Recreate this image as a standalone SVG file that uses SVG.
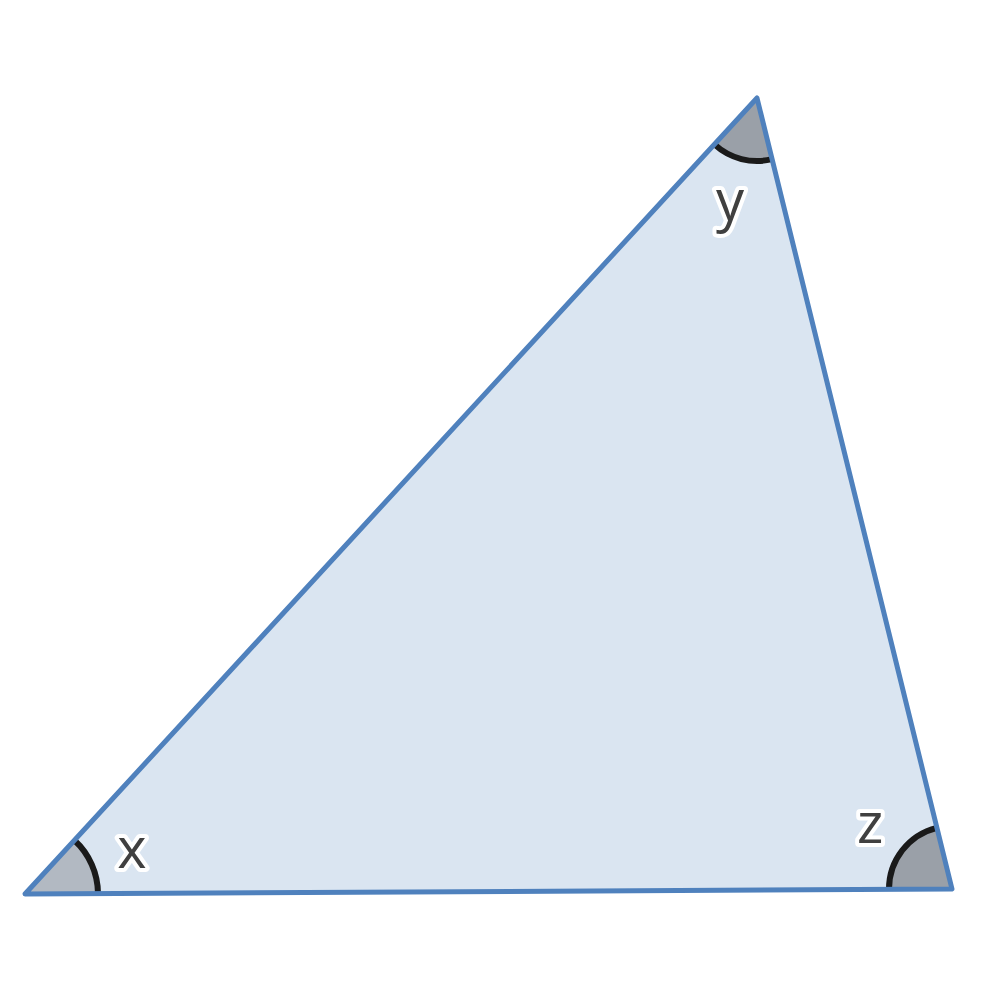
<svg xmlns="http://www.w3.org/2000/svg" width="1000" height="1000" viewBox="0 0 1000 1000">
<style>
.tri{fill:#dae5f1;stroke:none}
.edge{fill:none;stroke:#4f81bd;stroke-width:5;stroke-linejoin:round;stroke-linecap:round}
.arc{fill:none;stroke:#1a1a1a;stroke-width:6}
.lbl{font-family:"Open Sans","Liberation Sans",sans-serif;font-size:56px;fill:#404040;stroke:#ffffff;stroke-width:8;stroke-linejoin:round;paint-order:stroke;text-anchor:middle}
</style>
<rect width="1000" height="1000" fill="#ffffff"/>
<g id="triangle">
<polygon class="tri" points="25,894 757,98 952,889"/>
</g>
<g id="angle-x">
<path d="M25,894 L74.4,840.3 A73,73 0 0 1 98,893.6 Z" fill="#b2b9c2"/>
<path class="arc" d="M74.4,840.3 A73,73 0 0 1 98,893.6"/>
</g>
<g id="angle-y">
<path d="M757,98 L714.4,144.4 A63,63 0 0 0 772.1,159.2 Z" fill="#9aa0a8"/>
<path class="arc" d="M714.4,144.4 A63,63 0 0 0 772.1,159.2"/>
</g>
<g id="angle-z">
<path d="M952,889 L936.9,827.8 A63,63 0 0 0 889,889.3 Z" fill="#9aa0a8"/>
<path class="arc" d="M936.9,827.8 A63,63 0 0 0 889,889.3"/>
</g>
<g id="edges">
<polygon class="edge" points="25,894 757,98 952,889"/>
</g>
<g id="labels">
<text class="lbl" x="132" y="868">x</text>
<text class="lbl" x="730" y="220">y</text>
<text class="lbl" x="870" y="843">z</text>
</g>
</svg>
